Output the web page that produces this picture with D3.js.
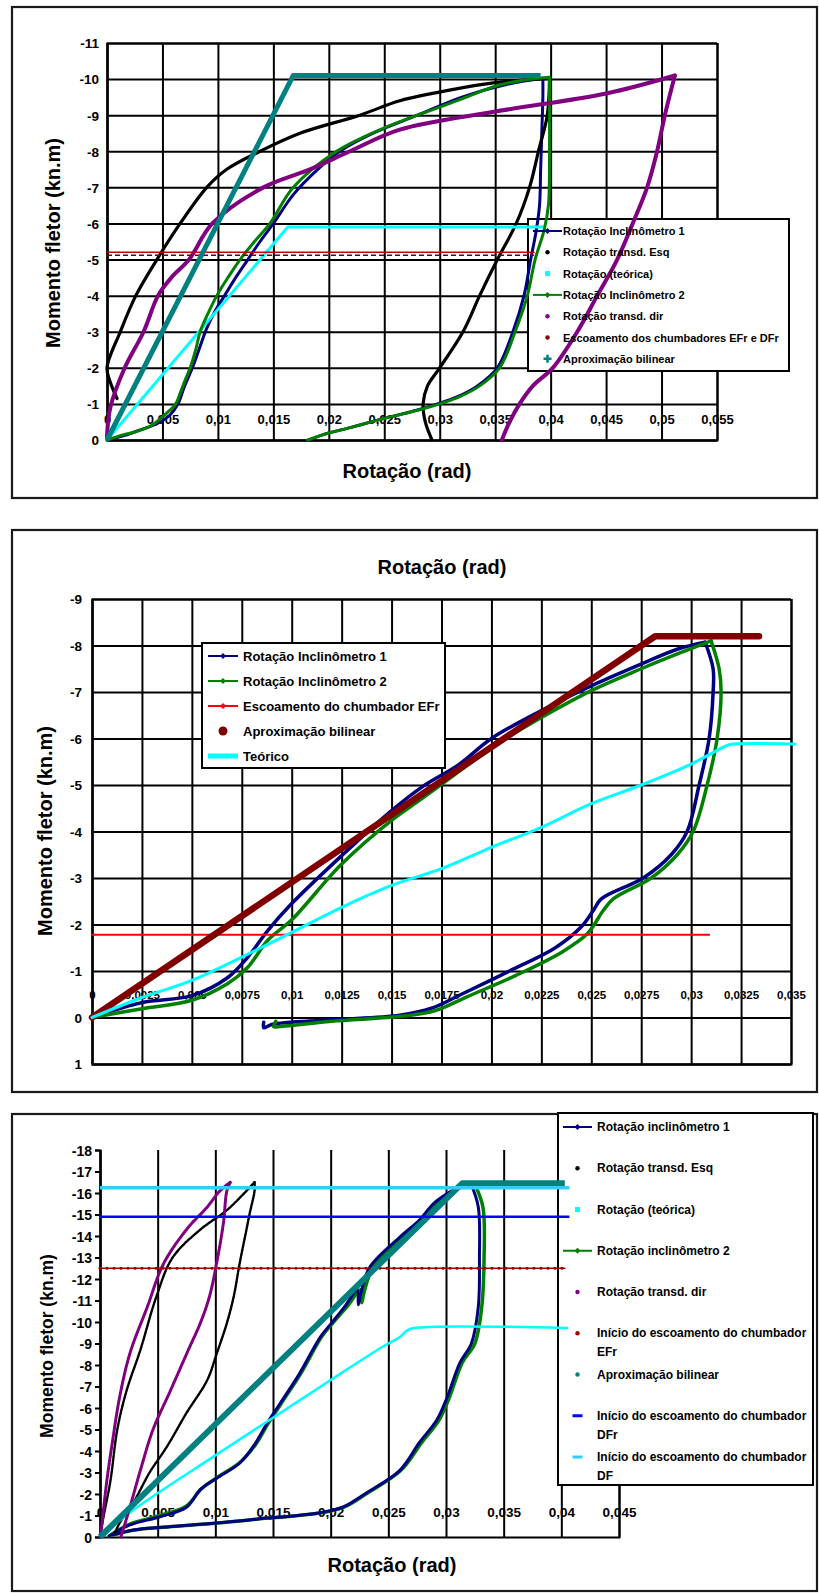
<!DOCTYPE html>
<html><head><meta charset="utf-8">
<script src="https://cdn.jsdelivr.net/npm/d3@7"></script>
<style>
body{margin:0;background:#fff}
svg{display:block}
text{font-family:"Liberation Sans",Arial,sans-serif;font-weight:bold;fill:#000}
</style>
</head><body>
<svg id="c" width="819" height="1593"></svg>
<script>
// ================= PANEL 1 DATA =================
const p1XTicks = [0,0.005,0.01,0.015,0.02,0.025,0.03,0.035,0.04,0.045,0.05,0.055];
const p1XLabels = ["0","0,005","0,01","0,015","0,02","0,025","0,03","0,035","0,04","0,045","0,05","0,055"];
const p1YTicks = [-11,-10,-9,-8,-7,-6,-5,-4,-3,-2,-1,0];
const p1YLabels = ["-11","-10","-9","-8","-7","-6","-5","-4","-3","-2","-1","0"];
const p1Names = ["Rotação Inclinômetro 1","Rotação transd. Esq","Rotação (teórica)","Rotação Inclinômetro 2","Rotação transd. dir","Escoamento dos chumbadores EFr e DFr","Aproximação bilinear"];
const p1Incl1 = [[0,0],[0.0015,-0.12],[0.003,-0.28],[0.0045,-0.45],[0.0057,-0.7],[0.0064,-1.0],[0.007,-1.5],[0.0077,-2.0],[0.0084,-2.6],[0.009,-3.1],[0.0098,-3.6],[0.0106,-4.0],[0.0116,-4.5],[0.0127,-5.0],[0.0138,-5.5],[0.015,-6.0],[0.0168,-6.8],[0.019,-7.5],[0.021,-8.0],[0.024,-8.5],[0.028,-9.0],[0.032,-9.5],[0.036,-9.85],[0.0393,-10.02],[0.0393,-9.5],[0.0392,-8.5],[0.0391,-7.5],[0.039,-6.5],[0.0387,-5.8],[0.0382,-5.0],[0.0376,-4.0],[0.0366,-3.0],[0.0352,-2.0],[0.0334,-1.5],[0.0316,-1.2],[0.0298,-1.0],[0.028,-0.83],[0.025,-0.6],[0.022,-0.35],[0.0195,-0.15],[0.0182,0]];
const p1TransdEsq = [[0.0009,-1.15],[0.0003,-1.6],[0,-2.0],[0.0012,-3.0],[0.0026,-4.0],[0.0045,-5.0],[0.0066,-6.0],[0.009,-7.0],[0.0108,-7.5],[0.0138,-8.0],[0.0174,-8.5],[0.0228,-9.0],[0.0264,-9.4],[0.031,-9.7],[0.035,-9.9],[0.0399,-10.02],[0.0397,-9.0],[0.0389,-8.0],[0.0381,-7.0],[0.0369,-6.0],[0.0352,-5.0],[0.0336,-4.0],[0.0321,-3.0],[0.030,-2.0],[0.0289,-1.5],[0.0285,-1.0],[0.0287,-0.5],[0.0293,0]];
const p1Teorica = [[0,0],[0.0163,-5.9],[0.0393,-5.9]];
const p1Incl2 = [[0,0],[0.0015,-0.15],[0.0023,-0.2],[0.004,-0.4],[0.0054,-0.75],[0.0062,-1.0],[0.0066,-1.3],[0.0071,-1.7],[0.0075,-2.0],[0.008,-2.5],[0.0084,-3.0],[0.0091,-3.5],[0.0099,-4.0],[0.0109,-4.5],[0.012,-5.0],[0.0133,-5.5],[0.0147,-6.0],[0.0168,-7.0],[0.0207,-8.0],[0.025,-8.65],[0.028,-9.0],[0.032,-9.45],[0.035,-9.8],[0.0375,-9.97],[0.0399,-10.05],[0.0399,-9.0],[0.0399,-8.0],[0.0398,-6.5],[0.0394,-5.8],[0.0386,-5.0],[0.0379,-4.0],[0.0368,-3.0],[0.0354,-2.0],[0.0336,-1.5],[0.0318,-1.2],[0.030,-1.0],[0.0281,-0.83],[0.025,-0.6],[0.022,-0.35],[0.0195,-0.15],[0.0181,0]];
const p1TransdDir = [[0,-0.1],[0.0003,-0.9],[0.0016,-2.0],[0.0033,-3.0],[0.0046,-4.0],[0.0058,-4.5],[0.0074,-5.0],[0.0095,-6.0],[0.0141,-7.0],[0.0183,-7.5],[0.0219,-8.0],[0.0264,-8.6],[0.035,-9.1],[0.045,-9.6],[0.0512,-10.1],[0.0503,-9.0],[0.0496,-8.0],[0.0487,-7.0],[0.0474,-6.0],[0.046,-5.0],[0.0442,-4.0],[0.0424,-3.0],[0.0402,-2.0],[0.0384,-1.5],[0.0372,-1.0],[0.0363,-0.5],[0.0356,0]];
const p1Escoamento = [[0,-5.2],[0.0385,-5.2]];
const p1Bilinear = [[0,0],[0.0168,-10.1],[0.0391,-10.1]];

// ================= PANEL 2 DATA =================
const p2XTicks = [0,0.0025,0.005,0.0075,0.01,0.0125,0.015,0.0175,0.02,0.0225,0.025,0.0275,0.03,0.0325,0.035];
const p2XLabels = ["0","0,0025","0,005","0,0075","0,01","0,0125","0,015","0,0175","0,02","0,0225","0,025","0,0275","0,03","0,0325","0,035"];
const p2YTicks = [-9,-8,-7,-6,-5,-4,-3,-2,-1,0,1];
const p2YLabels = ["-9","-8","-7","-6","-5","-4","-3","-2","-1","0","1"];
const p2Names = ["Rotação Inclinômetro 1","Rotação Inclinômetro 2","Escoamento do chumbador EFr","Aproximação bilinear","Teórico"];
const p2Incl1 = [[0,0],[0.0025,-0.32],[0.005,-0.47],[0.0068,-0.86],[0.0078,-1.3],[0.0088,-1.87],[0.01,-2.45],[0.0125,-3.48],[0.015,-4.45],[0.0165,-4.95],[0.0184,-5.45],[0.02,-6.0],[0.0225,-6.6],[0.0251,-7.15],[0.0275,-7.6],[0.0293,-7.92],[0.0307,-8.07],[0.0311,-7.5],[0.0311,-7.0],[0.0309,-6.0],[0.0304,-5.0],[0.0298,-4.0],[0.029,-3.5],[0.0276,-3.0],[0.0255,-2.55],[0.0251,-2.3],[0.0245,-1.95],[0.0232,-1.5],[0.0209,-1.0],[0.0185,-0.5],[0.017,-0.2],[0.0154,-0.05],[0.012,0.05],[0.009,0.15],[0.0086,0.22],[0.0086,0.1]];
const p2Incl2 = [[0,0],[0.0025,-0.19],[0.005,-0.37],[0.0068,-0.73],[0.0078,-1.08],[0.0088,-1.66],[0.01,-2.1],[0.0125,-3.3],[0.015,-4.24],[0.0165,-4.7],[0.0184,-5.3],[0.02,-5.8],[0.0225,-6.45],[0.0251,-7.05],[0.0275,-7.5],[0.0295,-7.85],[0.031,-8.1],[0.0314,-7.5],[0.0315,-7.0],[0.0313,-6.0],[0.0308,-5.0],[0.0301,-4.0],[0.0293,-3.5],[0.028,-3.0],[0.0261,-2.55],[0.0256,-2.3],[0.0248,-1.8],[0.0235,-1.4],[0.0212,-0.9],[0.0188,-0.45],[0.0172,-0.15],[0.0156,-0.03],[0.012,0.08],[0.0093,0.2],[0.0091,0.2],[0.0092,0.08]];
const p2Escoamento = [[0,-1.78],[0.0309,-1.78]];
const p2Bilinear = [[0,0],[0.0282,-8.2],[0.0334,-8.2]];
const p2Teorico = [[0,0],[0.0025,-0.43],[0.005,-0.8],[0.0075,-1.3],[0.01,-1.83],[0.0125,-2.37],[0.015,-2.84],[0.0175,-3.2],[0.02,-3.66],[0.0225,-4.09],[0.025,-4.6],[0.0275,-5.0],[0.03,-5.45],[0.0318,-5.85],[0.0321,-5.88],[0.0352,-5.88]];

// ================= PANEL 3 DATA =================
const p3XTicks = [0,0.005,0.01,0.015,0.02,0.025,0.03,0.035,0.04,0.045];
const p3XLabels = ["0","0,005","0,01","0,015","0,02","0,025","0,03","0,035","0,04","0,045"];
const p3YTicks = [-18,-17,-16,-15,-14,-13,-12,-11,-10,-9,-8,-7,-6,-5,-4,-3,-2,-1,0];
const p3YLabels = ["-18","-17","-16","-15","-14","-13","-12","-11","-10","-9","-8","-7","-6","-5","-4","-3","-2","-1","0"];
const p3Names = [["Rotação inclinômetro 1"],["Rotação transd. Esq"],["Rotação (teórica)"],["Rotação inclinômetro 2"],["Rotação transd. dir"],["Início do escoamento do chumbador","EFr"],["Aproximação bilinear"],["Início do escoamento do chumbador","DFr"],["Início do escoamento do chumbador","DF"]];
const p3Incl1 = [[0.0008,-0.05],[0.0026,-0.56],[0.0052,-0.94],[0.0075,-1.38],[0.0087,-2.2],[0.0101,-2.73],[0.0121,-3.43],[0.0134,-4.3],[0.0145,-5.3],[0.0156,-6.2],[0.0173,-7.6],[0.0191,-9.3],[0.02,-9.9],[0.0212,-10.7],[0.0223,-11.5],[0.0224,-10.8],[0.0226,-11.3],[0.0234,-12.56],[0.026,-13.95],[0.0277,-14.74],[0.0289,-15.5],[0.0302,-16.0],[0.0312,-16.3],[0.0322,-16.37],[0.0328,-15.35],[0.0329,-13],[0.0328,-10.7],[0.0322,-9.0],[0.0312,-8.1],[0.0301,-6.5],[0.0292,-5.44],[0.0277,-4.4],[0.026,-3.1],[0.0231,-2.05],[0.0211,-1.4],[0.0188,-1.1],[0.0145,-0.88],[0.0101,-0.65],[0.0058,-0.47],[0.0029,-0.33],[0.0011,-0.1]];
const p3TransdEsq = [[0,0],[0.0003,-0.93],[0.0009,-2.6],[0.0015,-5.0],[0.0023,-6.8],[0.0035,-8.7],[0.0049,-11.2],[0.0063,-13.0],[0.0087,-14.3],[0.011,-15.2],[0.0127,-16.1],[0.0134,-16.5],[0.0134,-16.1],[0.013,-15.1],[0.0127,-14.3],[0.0121,-12.7],[0.0116,-11.2],[0.011,-9.95],[0.0101,-8.5],[0.0093,-7.3],[0.0075,-5.77],[0.0058,-4.2],[0.0043,-3.0],[0.0029,-1.6],[0.0017,-0.65],[0.0013,-0.2]];
const p3Teorica = [[0,0],[0.003,-1.3],[0.0103,-3.9],[0.015,-5.55],[0.02,-7.3],[0.0245,-8.85],[0.026,-9.3],[0.0266,-9.6],[0.0272,-9.72],[0.0405,-9.72]];
const p3Incl2 = [[0.0008,-0.05],[0.0026,-0.6],[0.0052,-1.0],[0.0075,-1.45],[0.0088,-2.25],[0.0102,-2.78],[0.0122,-3.5],[0.0135,-4.3],[0.0146,-5.3],[0.0157,-6.2],[0.0174,-7.6],[0.0192,-9.3],[0.0201,-9.9],[0.0214,-10.7],[0.0226,-11.5],[0.0227,-10.9],[0.0229,-11.4],[0.0237,-12.56],[0.0262,-13.95],[0.0279,-14.74],[0.0291,-15.5],[0.0304,-16.0],[0.0314,-16.3],[0.0325,-16.4],[0.0332,-15.35],[0.0333,-13],[0.0331,-10.7],[0.0325,-9.0],[0.0314,-8.1],[0.0303,-6.5],[0.0294,-5.44],[0.0279,-4.4],[0.0261,-3.1],[0.0232,-2.05],[0.0212,-1.4],[0.0189,-1.1],[0.0146,-0.88],[0.0102,-0.65],[0.0059,-0.47],[0.003,-0.33],[0.0012,-0.1]];
const p3TransdDir = [[0,0],[0.0001,-0.33],[0.0006,-2.65],[0.0011,-4.5],[0.0017,-6.5],[0.0026,-8.55],[0.0041,-10.7],[0.0055,-12.7],[0.0075,-14.3],[0.0093,-15.35],[0.0104,-16.1],[0.0113,-16.5],[0.011,-16.1],[0.0107,-14.6],[0.0101,-12.7],[0.0095,-11.2],[0.0087,-9.95],[0.0077,-8.75],[0.0061,-6.8],[0.0046,-5.0],[0.0035,-3.1],[0.0026,-1.4],[0.002,-0.33],[0.0018,0]];
const p3EFr = [[0,-12.5],[0.0403,-12.5]];
const p3Bilinear = [[0,0],[0.0314,-16.45],[0.0403,-16.45]];
const p3DFr = [[0,-14.9],[0.0407,-14.9]];
const p3DF = [[0,-16.25],[0.0407,-16.25]];

// ================= DRAWING =================
const svg = d3.select('#c');
const AXIS_TITLE = "Rotação (rad)";
const Y_TITLE = "Momento fletor (kn.m)";
const SMOOTH = d3.curveCatmullRom.alpha(0.5);

function frame(x, y, w, h) {
  svg.append('rect').attr('x', x).attr('y', y).attr('width', w).attr('height', h)
    .attr('fill', '#fff').attr('stroke', '#1a1a1a').attr('stroke-width', 2.2);
}
function scales(xd, yd, L) {
  return { x: d3.scaleLinear().domain(xd).range([L.l, L.r]),
           y: d3.scaleLinear().domain(yd).range([L.b, L.t]) };
}
function styleGrid(a, w) {
  a.selectAll('line').attr('stroke', '#000').attr('stroke-width', w);
  a.select('.domain').attr('stroke', '#000').attr('stroke-width', w);
}
function vGrid(sc, L, ticks) {
  svg.append('g').attr('transform', `translate(0,${L.b})`)
    .call(d3.axisBottom(sc.x).tickValues(ticks).tickSize(-(L.b - L.t)).tickFormat(''))
    .call(a => styleGrid(a, 2));
}
function hGrid(sc, L, ticks) {
  svg.append('g').attr('transform', `translate(${L.l},0)`)
    .call(d3.axisLeft(sc.y).tickValues(ticks).tickSize(-(L.r - L.l)).tickFormat(''))
    .call(a => styleGrid(a, 2));
}
function xLabels(sc, yPos, ticks, labels, fs) {
  svg.append('g').attr('transform', `translate(0,${yPos})`)
    .call(d3.axisBottom(sc.x).tickValues(ticks).tickSize(0).tickFormat((d, i) => labels[i]))
    .call(a => {
      a.select('.domain').remove();
      a.attr('font-family', null).attr('font-size', null);
      a.selectAll('text').attr('y', 0).attr('dy', '0.36em').style('font-size', fs + 'px');
    });
}
function yLabels(sc, xPos, ticks, labels, fs, tick) {
  svg.append('g').attr('transform', `translate(${xPos},0)`)
    .call(d3.axisLeft(sc.y).tickValues(ticks).tickSize(tick || 0).tickPadding(tick ? 3 : 0).tickFormat((d, i) => labels[i]))
    .call(a => {
      if (!tick) a.select('.domain').remove();
      else { a.selectAll('line').attr('stroke', '#000').attr('stroke-width', 2); a.select('.domain').attr('stroke', '#000').attr('stroke-width', 2); }
      a.attr('font-family', null).attr('font-size', null);
      a.selectAll('text').attr('dy', '0.36em').style('font-size', fs + 'px');
    });
}
function series(sc, data, color, width, extra, smooth) {
  const line = d3.line().x(d => sc.x(d[0])).y(d => sc.y(d[1]));
  if (smooth) line.curve(SMOOTH);
  const p = svg.append('path').datum(data).attr('d', line).attr('fill', 'none')
    .attr('stroke', color).attr('stroke-width', width)
    .attr('stroke-linejoin', 'round').attr('stroke-linecap', 'round');
  if (extra) extra(p);
  return p;
}
// smooth curve, split at the peak (loading / unloading branches) so the reversal stays sharp
function curve(sc, data, color, width, extra) {
  const k = d3.minIndex(data, d => d[1]);
  series(sc, data.slice(0, k + 1), color, width, extra, true);
  series(sc, data.slice(k), color, width, extra, true);
}
function title(txt, x, y, fs, rot) {
  const t = svg.append('text').attr('text-anchor', 'middle').attr('dominant-baseline', 'central')
    .style('font-size', fs + 'px').text(txt);
  if (rot) t.attr('transform', `translate(${x},${y}) rotate(-90)`);
  else t.attr('x', x).attr('y', y);
}
function legendBox(x0, y0, x1, y1) {
  svg.append('rect').attr('x', x0).attr('y', y0).attr('width', x1 - x0).attr('height', y1 - y0)
    .attr('fill', '#fff').attr('stroke', '#000').attr('stroke-width', 2);
}
function symbol(kind, color, xa, xb, cy) {
  const cx = (xa + xb) / 2;
  if (kind === 'lineMark') {
    svg.append('line').attr('x1', xa).attr('x2', xb).attr('y1', cy).attr('y2', cy).attr('stroke', color).attr('stroke-width', 2);
    svg.append('path').attr('d', `M${cx - 3},${cy}L${cx},${cy - 3}L${cx + 3},${cy}L${cx},${cy + 3}Z`).attr('fill', color);
  } else if (kind === 'dot') {
    svg.append('circle').attr('cx', cx).attr('cy', cy).attr('r', 2.2).attr('fill', color);
  } else if (kind === 'bigdot') {
    svg.append('circle').attr('cx', cx).attr('cy', cy).attr('r', 4.5).attr('fill', color);
  } else if (kind === 'square') {
    svg.append('rect').attr('x', cx - 2.5).attr('y', cy - 2.5).attr('width', 5).attr('height', 5).attr('fill', color);
  } else if (kind === 'plus') {
    svg.append('path').attr('d', `M${cx - 4},${cy}H${cx + 4}M${cx},${cy - 4}V${cy + 4}`).attr('stroke', color).attr('stroke-width', 2.5);
  } else if (kind === 'thick') {
    svg.append('line').attr('x1', xa).attr('x2', xb).attr('y1', cy).attr('y2', cy).attr('stroke', color).attr('stroke-width', 5);
  } else if (kind === 'dash') {
    svg.append('line').attr('x1', cx - 5).attr('x2', cx + 5).attr('y1', cy).attr('y2', cy).attr('stroke', color).attr('stroke-width', 3);
  }
}
function legendText(lines, x, y, fs, lh) {
  const t = svg.append('text').attr('x', x).attr('y', y).attr('dominant-baseline', 'central').style('font-size', fs + 'px');
  [].concat(lines).forEach((s, i) => t.append('tspan').attr('x', x).attr('dy', i ? lh : 0).text(s));
}

// ---------------- PANEL 1 ----------------
(function () {
  frame(12, 7, 805, 491);
  const L = { l: 107, r: 717, t: 43, b: 440 };
  const sc = scales([0, 0.055], [0, -11], L);
  vGrid(sc, L, p1XTicks);
  hGrid(sc, L, p1YTicks);
  xLabels(sc, L.b - 21, p1XTicks, p1XLabels, 13);
  yLabels(sc, L.l - 8, p1YTicks, p1YLabels, 13.5);
  legendBox(528, 219, 789, 371);
  curve(sc, p1Incl1, '#000080', 3);
  curve(sc, p1TransdEsq, '#000000', 3.2);
  series(sc, p1Teorica, '#00FFFF', 3);
  curve(sc, p1Incl2, '#008000', 3);
  curve(sc, p1TransdDir, '#800080', 4);
  series(sc, p1Escoamento, '#c00000', 1.5);
  series(sc, p1Escoamento, '#700000', 1.5, p => p.attr('transform', 'translate(0,3)').attr('stroke-dasharray', '5,3').attr('stroke-linecap', 'butt'));
  series(sc, p1Bilinear, '#008080', 5, p => p.attr('stroke-linecap', 'butt'));
  const kinds = ['lineMark', 'dot', 'square', 'lineMark', 'dot', 'dot', 'plus'];
  const cols = ['#000080', '#000000', '#00FFFF', '#008000', '#800080', '#800000', '#008080'];
  p1Names.forEach((n, i) => {
    const cy = 231 + i * 21.3;
    symbol(kinds[i], cols[i], 533, 562, cy);
    legendText(n, 563, cy, 11, 0);
  });
  title(AXIS_TITLE, 407, 471, 20);
  title(Y_TITLE, 53, 243, 20, true);
})();

// ---------------- PANEL 2 ----------------
(function () {
  frame(12, 530, 805, 562);
  const L = { l: 92, r: 791, t: 599, b: 1064 };
  const sc = scales([0, 0.035], [1, -9], L);
  vGrid(sc, L, p2XTicks);
  hGrid(sc, L, p2YTicks);
  xLabels(sc, sc.y(0) - 23, p2XTicks, p2XLabels, 11.5);
  yLabels(sc, L.l - 10, p2YTicks, p2YLabels, 13.5);
  legendBox(202, 643, 445, 768);
  curve(sc, p2Incl1, '#000080', 3.5);
  curve(sc, p2Incl2, '#008000', 3.5);
  series(sc, p2Escoamento, '#FF0000', 2);
  series(sc, p2Bilinear, '#800000', 6.5);
  series(sc, p2Teorico, '#00FFFF', 3, null, true);
  const kinds = ['lineMark', 'lineMark', 'lineMark', 'bigdot', 'thick'];
  const cols = ['#000080', '#008000', '#FF0000', '#800000', '#00FFFF'];
  p2Names.forEach((n, i) => {
    const cy = 656 + i * 25;
    symbol(kinds[i], cols[i], 208, 238, cy);
    legendText(n, 243, cy, 13, 0);
  });
  title(AXIS_TITLE, 442, 567, 20);
  title(Y_TITLE, 45, 831, 20, true);
})();

// ---------------- PANEL 3 ----------------
(function () {
  frame(12, 1114, 805, 477);
  const L = { l: 100, r: 619, t: 1150, b: 1537 };
  const sc = scales([0, 0.045], [0, -18], L);
  vGrid(sc, L, p3XTicks);
  yLabels(sc, L.l, p3YTicks, p3YLabels, 14, 5);
  xLabels(sc, L.b - 25, p3XTicks, p3XLabels, 13.5);
  legendBox(558, 1113, 813, 1485);
  curve(sc, p3Incl2, '#008000', 3.5);
  curve(sc, p3Incl1, '#000080', 3);
  curve(sc, p3TransdEsq, '#000000', 2.4, p => p.attr('stroke-dasharray', '3,1'));
  series(sc, p3Teorica, '#00FFFF', 2.5, null, true);
  curve(sc, p3TransdDir, '#800080', 3, p => p.attr('stroke-dasharray', '3,1'));
  series(sc, p3EFr, '#a00000', 1.5);
  series(sc, p3EFr, '#a00000', 3.2, p => p.attr('stroke-dasharray', '0,7'));
  series(sc, p3Bilinear, '#008080', 6, p => p.attr('stroke-linecap', 'butt'));
  series(sc, p3DFr, '#0000FF', 2.5, p => p.attr('stroke-linecap', 'butt'));
  series(sc, p3DF, '#33CCFF', 3.5, p => p.attr('stroke-linecap', 'butt'));
  const kinds = ['lineMark', 'dot', 'square', 'lineMark', 'dot', 'dot', 'dot', 'dash', 'dash'];
  const cols = ['#000080', '#000000', '#00FFFF', '#008000', '#800080', '#a00000', '#008080', '#0000FF', '#33CCFF'];
  p3Names.forEach((n, i) => {
    const cy = 1127 + i * 41.25;
    symbol(kinds[i], cols[i], 563, 592, cy);
    legendText(n, 597, cy, 12, 19);
  });
  title(AXIS_TITLE, 392, 1565, 20);
  title(Y_TITLE, 47, 1346, 17.5, true);
})();
</script>
</body></html>
